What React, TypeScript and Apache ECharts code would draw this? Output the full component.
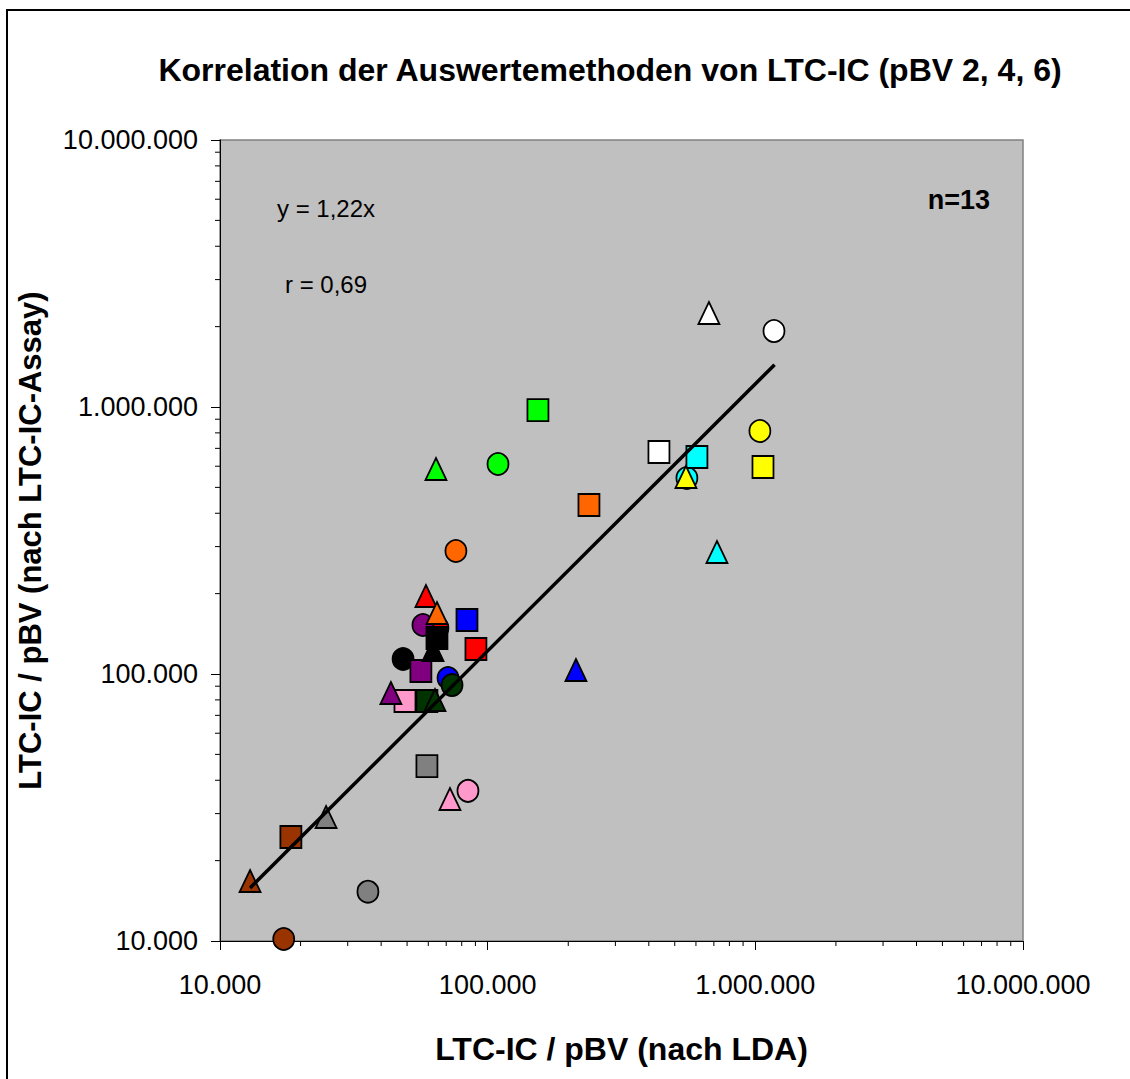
import React, { useEffect, useRef } from "react";
import * as echarts from "echarts";

// patient colours (13 patients)
const patientColors = [
  "#FF0000", "#FF6600", "#00FF00", "#0000FF", "#FFFFFF", "#FFFF00", "#00FFFF",
  "#800080", "#000000", "#003300", "#FF99CC", "#808080", "#993300",
];

// circle markers
const circleX = [65200, 76100, 109300, 71100, 1174000, 1040000, 555000, 57300, 48300, 73600, 84400, 35700, 17300];
const circleY = [148700, 288900, 611700, 96600, 1925000, 813000, 542000, 152600, 113800, 90900, 36500, 15300, 10170];
// square markers
const squareX = [90400, 239000, 154100, 83700, 436400, 1068000, 605000, 56300, 64650, 59300, 49100, 59300, 18400];
const squareY = [124100, 429500, 974000, 159300, 678500, 596000, 649700, 102600, 136400, 79200, 79200, 45200, 24520];
// triangle markers
const triangleX = [58800, 64650, 64100, 213700, 670800, 550600, 718800, 43500, 62500, 63560, 72300, 24900, 12950];
const triangleY = [195900, 169200, 586000, 103500, 2249000, 546700, 286300, 84900, 123000, 79900, 34030, 29140, 16780];

// regression line y = 1,22x endpoints
const trendX = [12950, 1180000];
const trendY = [15800, 1440000];

const axisMin = 10000;
const axisMax = 10000000;
const minorTickValues: number[] = [];
for (const dec of [10000, 100000, 1000000]) {
  for (let k = 2; k <= 9; k++) minorTickValues.push(dec * k);
}

const titleText = "Korrelation der Auswertemethoden von LTC-IC (pBV 2, 4, 6)";
const xName = "LTC-IC / pBV (nach LDA)";
const yName = "LTC-IC / pBV (nach LTC-IC-Assay)";
const eqText = "y = 1,22x";
const rText = "r = 0,69";
const nText = "n=13";

const FONT = "Liberation Sans, Arial, sans-serif";

const fmt = (v: number) =>
  Math.round(v).toString().replace(/\B(?=(\d{3})+(?!\d))/g, ".");

function markerSeries(name: string, symbol: string, xs: number[], ys: number[]) {
  return {
    name,
    type: "scatter",
    symbol,
    symbolSize: [21, 22],
    data: xs.map((x, i) => ({
      value: [x, ys[i]],
      itemStyle: { color: patientColors[i] },
    })),
    itemStyle: { borderColor: "#000", borderWidth: 1.8, opacity: 1 },
    z: 3,
  };
}

export default function App() {
  const ref = useRef<HTMLDivElement>(null);
  useEffect(() => {
    if (!ref.current) return;
    const chart = echarts.init(ref.current, undefined, { renderer: "svg" });
    const axisCommon = {
      type: "log",
      logBase: 10,
      min: axisMin,
      max: axisMax,
      splitLine: { show: false },
      axisLine: { show: true, lineStyle: { color: "#000", width: 1 } },
      axisTick: { show: true, inside: false, length: 9, lineStyle: { color: "#000" } },
      nameTextStyle: { fontFamily: FONT, fontWeight: "bold", fontSize: 32, color: "#000" },
    };
    chart.setOption({
      animation: false,
      backgroundColor: "#fff",
      grid: {
        left: 220, top: 140, width: 803, height: 801,
        show: true, backgroundColor: "#C0C0C0", borderColor: "#808080", borderWidth: 1.5,
      },
      xAxis: {
        ...axisCommon,
        name: xName,
        nameLocation: "middle",
        nameGap: 92,
        axisLabel: { formatter: fmt, fontFamily: FONT, fontSize: 27, color: "#000", margin: 30 },
      },
      yAxis: {
        ...axisCommon,
        name: yName,
        nameTextStyle: { fontFamily: FONT, fontWeight: "bold", fontSize: 31, color: "#000" },
        nameLocation: "middle",
        nameGap: 174,
        axisLabel: { formatter: fmt, fontFamily: FONT, fontSize: 27, color: "#000", margin: 22 },
      },
      graphic: [
        { type: "rect", shape: { x: 7, y: 10, width: 1300, height: 1300 }, style: { fill: "none", stroke: "#000", lineWidth: 2 }, silent: true },
        { type: "text", x: 610, y: 70, style: { text: titleText, font: `bold 32px ${FONT}`, fill: "#000", textAlign: "center", textVerticalAlign: "middle" } },
        { type: "text", x: 277, y: 208, style: { text: eqText, font: `24px ${FONT}`, fill: "#000", textAlign: "left", textVerticalAlign: "middle" } },
        { type: "text", x: 285, y: 284, style: { text: rText, font: `24px ${FONT}`, fill: "#000", textAlign: "left", textVerticalAlign: "middle" } },
        { type: "text", x: 990, y: 200, style: { text: nText, font: `bold 27px ${FONT}`, fill: "#000", textAlign: "right", textVerticalAlign: "middle" } },
      ],
      series: [
        markerSeries("pBV 2", "circle", circleX, circleY),
        markerSeries("pBV 4", "rect", squareX, squareY),
        markerSeries("pBV 6", "triangle", triangleX, triangleY),
        {
          type: "line",
          data: trendX.map((x, i) => [x, trendY[i]]),
          symbol: "none",
          lineStyle: { color: "#000", width: 3.5 },
          z: 4,
        },
        {
          type: "custom",
          silent: true,
          clip: false,
          data: minorTickValues.map((v) => [v, axisMin]),
          renderItem: (_p: any, api: any) => {
            const p = api.coord([api.value(0), axisMin]);
            return { type: "line", shape: { x1: p[0], y1: p[1], x2: p[0], y2: p[1] + 5 }, style: { stroke: "#000", lineWidth: 1 } };
          },
          z: 5,
        },
        {
          type: "custom",
          silent: true,
          clip: false,
          data: minorTickValues.map((v) => [axisMin, v]),
          renderItem: (_p: any, api: any) => {
            const p = api.coord([axisMin, api.value(1)]);
            return { type: "line", shape: { x1: p[0] - 5, y1: p[1], x2: p[0], y2: p[1] }, style: { stroke: "#000", lineWidth: 1 } };
          },
          z: 5,
        },
      ],
    });
    return () => chart.dispose();
  }, []);
  return (
    <div
      ref={ref}
      style={{ position: "absolute", left: 0, top: 0, width: 1130, height: 1079 }}
    />
  );
}
